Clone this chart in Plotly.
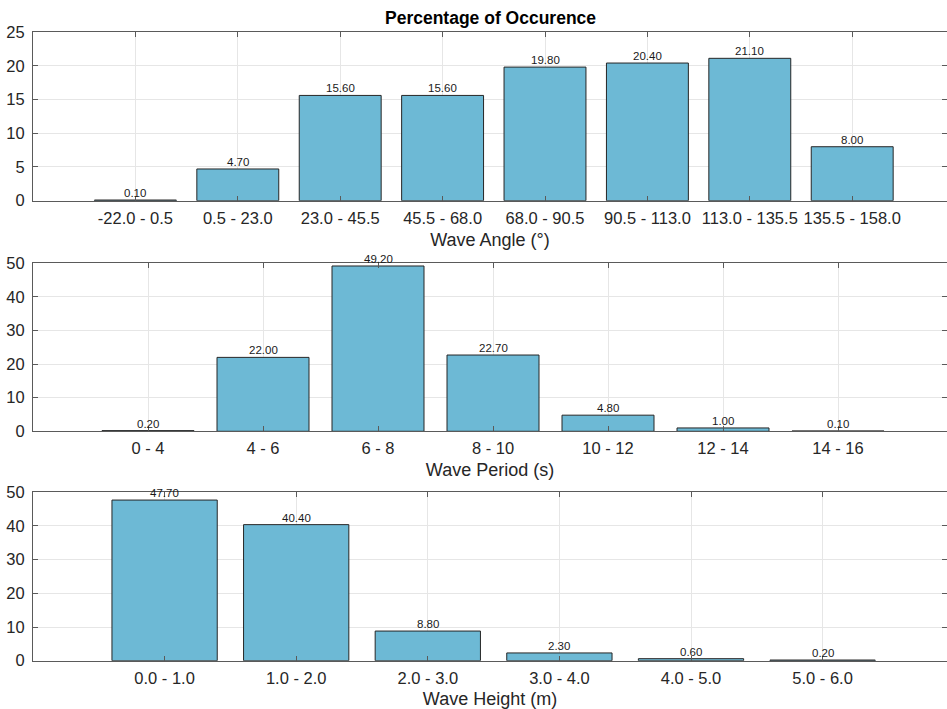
import plotly.graph_objects as go

# ---- data ----
angle_labels = ["-22.0 - 0.5", "0.5 - 23.0", "23.0 - 45.5", "45.5 - 68.0",
                "68.0 - 90.5", "90.5 - 113.0", "113.0 - 135.5", "135.5 - 158.0"]
angle_values = [0.10, 4.70, 15.60, 15.60, 19.80, 20.40, 21.10, 8.00]

period_labels = ["0 - 4", "4 - 6", "6 - 8", "8 - 10", "10 - 12", "12 - 14", "14 - 16"]
period_values = [0.20, 22.00, 49.20, 22.70, 4.80, 1.00, 0.10]

height_labels = ["0.0 - 1.0", "1.0 - 2.0", "2.0 - 3.0", "3.0 - 4.0", "4.0 - 5.0", "5.0 - 6.0"]
height_values = [47.70, 40.40, 8.80, 2.30, 0.60, 0.20]

titles = ["Wave Angle (°)", "Wave Period (s)", "Wave Height (m)"]
y_max = [25, 50, 50]
y_dtick = [5, 10, 10]

# ---- style ----
W, H = 947, 709
FONT = "Liberation Sans, Arial, Helvetica, sans-serif"
BAR = "#6DB9D5"
EDGE = "#262626"
AXC = "#5a5a5a"
TXT = "#262626"
GRID = "#e6e6e6"

plot_left = 33
plot_right = 947
# pixel spacing between category centers
spacing = [102.4, 115.0, 131.6]
# vertical pixel extents of each axes box (top, bottom)
boxes = [(32.0, 200.7), (263.3, 431.3), (492.3, 660.7)]

fig = go.Figure()
layout = dict(
    width=W, height=H,
    margin=dict(l=0, r=0, t=0, b=0, autoexpand=False),
    paper_bgcolor="white", plot_bgcolor="white",
    showlegend=False,
    font=dict(family=FONT, color=TXT, size=16),
)

datasets = [(angle_labels, angle_values), (period_labels, period_values),
            (height_labels, height_values)]

annotations = []
xd = [plot_left / W, plot_right / W]
for i, (labels, values) in enumerate(datasets):
    n = i + 1
    xs = list(range(1, len(labels) + 1))
    xa = "x" if n == 1 else f"x{n}"
    ya = "y" if n == 1 else f"y{n}"
    fig.add_trace(go.Bar(
        x=xs, y=values, width=0.8, xaxis=xa, yaxis=ya,
        marker=dict(color=BAR, line=dict(color=EDGE, width=1)),
        hoverinfo="x+y",
    ))
    top, bot = boxes[i]
    xr = (plot_right - plot_left) / spacing[i]
    layout["xaxis" if n == 1 else f"xaxis{n}"] = dict(
        domain=xd, anchor=ya, range=[0, xr], automargin=False,
        tickmode="array", tickvals=xs, ticktext=labels,
        ticks="inside", ticklen=5, tickcolor=AXC, tickwidth=1,
        showline=True, linecolor=AXC, linewidth=1, mirror="ticks",
        showgrid=True, gridcolor=GRID, gridwidth=1, zeroline=False,
        tickfont=dict(size=16.5, color=TXT, family=FONT),
        ticklabelstandoff=2,
        title=dict(text=titles[i], font=dict(size=18, color=TXT, family=FONT), standoff=7),
    )
    layout["yaxis" if n == 1 else f"yaxis{n}"] = dict(
        domain=[1 - bot / H, 1 - top / H], anchor=xa, automargin=False,
        range=[0, y_max[i]], dtick=y_dtick[i], tick0=0,
        ticks="inside", ticklen=5, tickcolor=AXC, tickwidth=1,
        showline=True, linecolor=AXC, linewidth=1, mirror="ticks",
        showgrid=True, gridcolor=GRID, gridwidth=1, zeroline=False,
        tickfont=dict(size=16.5, color=TXT, family=FONT),
        ticklabelstandoff=4,
    )
    for x, v in zip(xs, values):
        annotations.append(dict(
            x=x, y=v, xref=xa, yref=ya, text=f"{v:.2f}", showarrow=False,
            yanchor="bottom", xanchor="center", yshift=-1,
            font=dict(size=11.5, color="#1a1a1a", family=FONT),
        ))

annotations.append(dict(
    x=(plot_left + plot_right) / 2 / W, y=1 - 18 / H, xref="paper", yref="paper",
    text="<b>Percentage of Occurence</b>", showarrow=False,
    xanchor="center", yanchor="middle",
    font=dict(size=17.5, color="#000000", family=FONT),
))
layout["annotations"] = annotations
fig.update_layout(**layout)
fig.write_html("out.html")
